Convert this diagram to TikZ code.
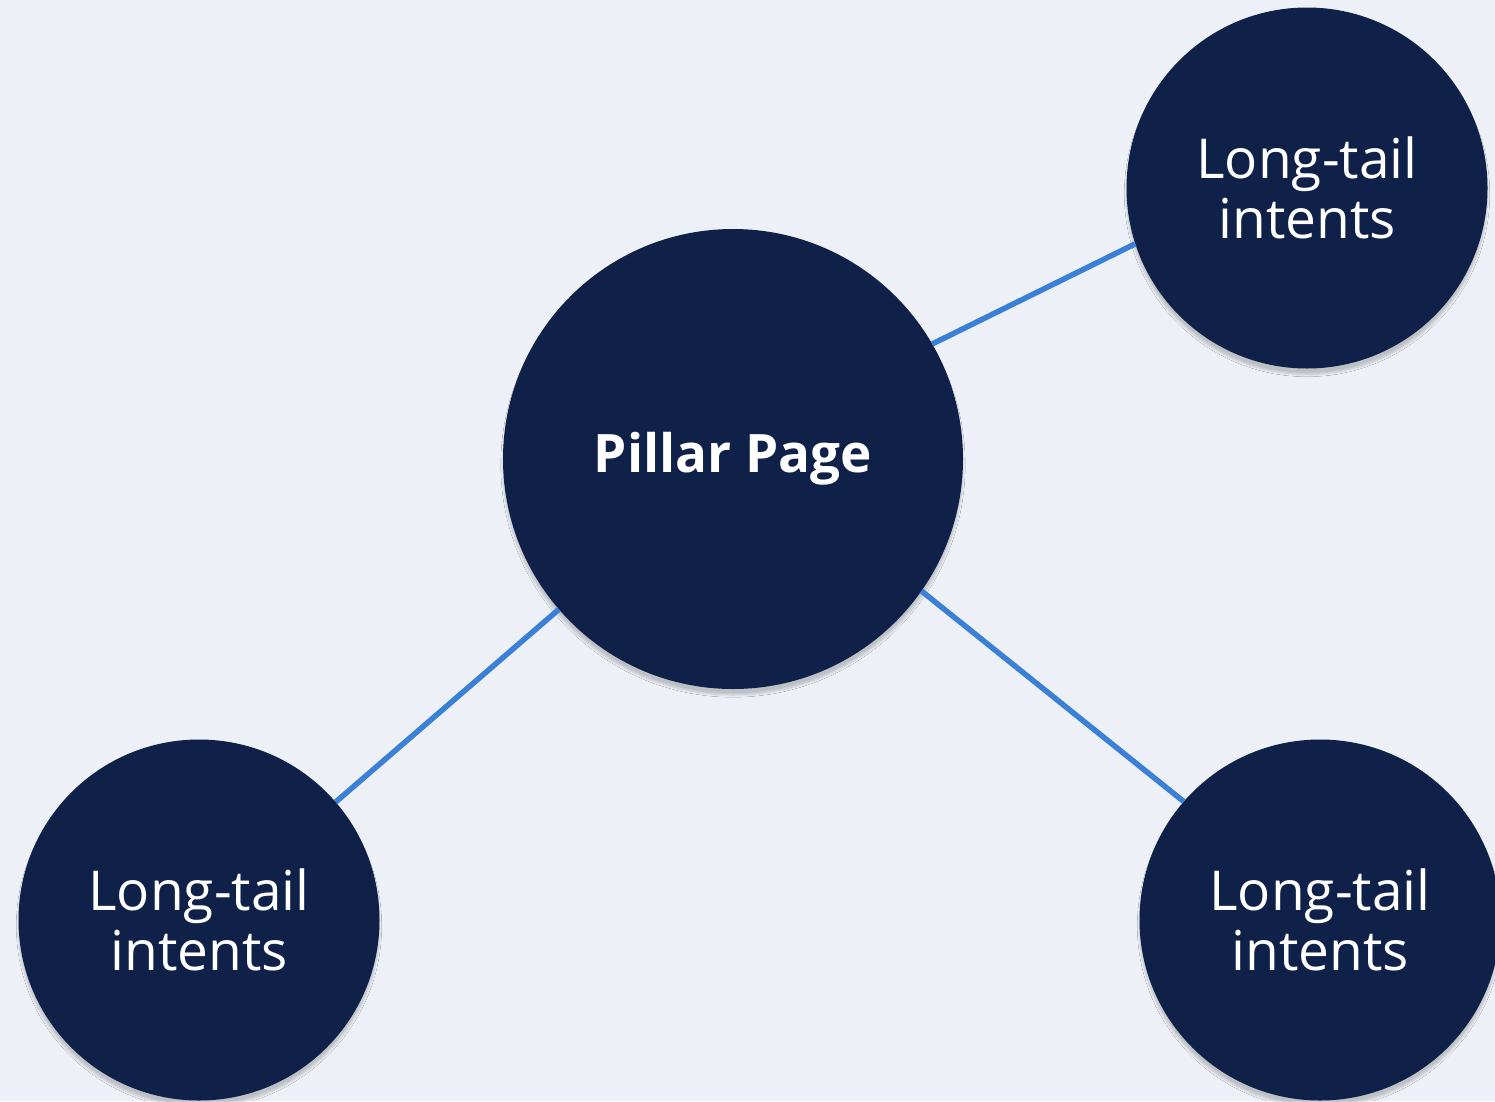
\documentclass[tikz,border=0pt]{standalone}
\usepackage{fontspec}
\setmainfont{Open Sans}
\usepackage{tikz}
\usetikzlibrary{shadows.blur}
\definecolor{pagebg}{HTML}{EDF1F7}
\definecolor{navy}{HTML}{0F2148}
\definecolor{linkblue}{HTML}{3A80D6}

\begin{document}
\begin{tikzpicture}[x=1pt,y=-1pt]
  % some styles
  \tikzset{
    hub/.style={
      circle,
      fill=navy,
      minimum size=460pt,
      inner sep=0pt,
      outer sep=0pt,
      text=white,
      font=\fontsize{53}{60}\selectfont\bfseries,
      blur shadow={shadow blur steps=8,shadow xshift=0pt,shadow yshift=-6pt,shadow opacity=20}
    }
  }
 \tikzset{spoke/.style={hub,minimum size=361pt,align=center,font=\fontsize{55}{60}\selectfont}}
 \tikzset{link/.style={draw=linkblue,line width=5.5pt}}

\fill[pagebg] (0,0) rectangle (1495,1101);
\useasboundingbox (0,0) rectangle (1495,1101);

\node[hub] (pillar) at (733,459) {Pillar Page};
\node[spoke] (tr) at (1307,188) {Long-tail\\intents};
\node[spoke] (bl) at (199,920) {Long-tail\\intents};
\node[spoke] (br) at (1320,920) {Long-tail\\intents};

\draw[link] (pillar.30) -- (tr.198);
\draw[link] (pillar) -- (bl);
\draw[link] (pillar.-35) -- (br.139);
% \draw[link] (tr) -- (br);

\end{tikzpicture}
\end{document}
